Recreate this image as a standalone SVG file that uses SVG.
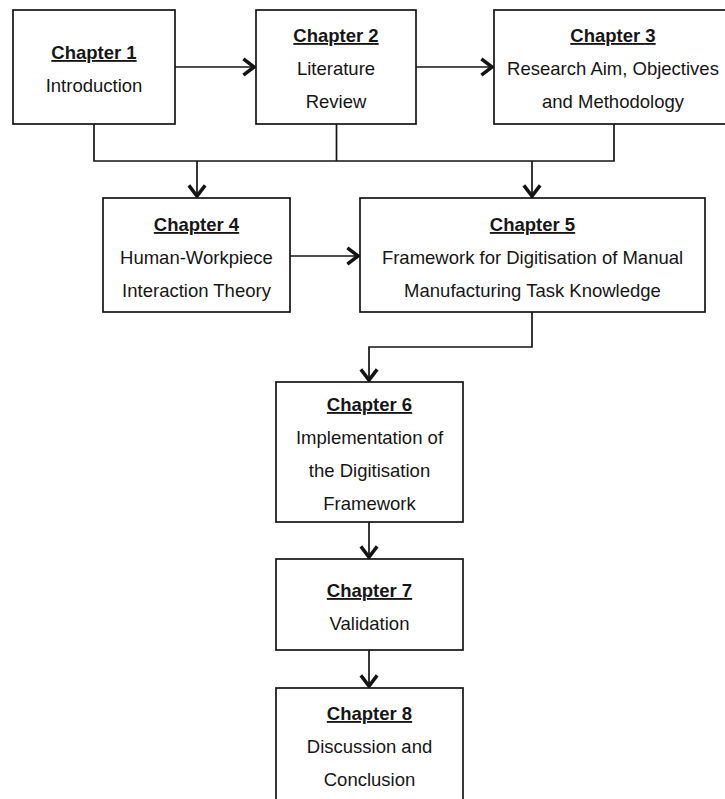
<svg xmlns="http://www.w3.org/2000/svg" width="725" height="799" viewBox="0 0 725 799">
  <style>
    .box { fill: #ffffff; stroke: #141414; stroke-width: 1.7; }
    .conn { fill: none; stroke: #141414; stroke-width: 1.7; }
    text { font-family: "Liberation Sans", Arial, sans-serif; font-size: 18.5px; fill: #161616; text-anchor: middle; }
    .title { font-weight: bold; text-decoration: underline; }
  </style>
  <defs>
    <marker id="arrow" markerUnits="userSpaceOnUse" markerWidth="24" markerHeight="24" viewBox="-14 -10 16 20" refX="0" refY="0" orient="auto">
      <path d="M-10.5,-6.8 L-1.6,0 L-10.5,6.8" fill="none" stroke="#141414" stroke-width="2.9" stroke-linejoin="miter"/>
    </marker>
  </defs>
  <rect width="725" height="799" fill="#ffffff"/>

  <g id="connectors">
    <path class="conn" d="M175,67 H256" marker-end="url(#arrow)"/>
    <path class="conn" d="M416,67 H494" marker-end="url(#arrow)"/>
    <path class="conn" d="M94,124 V161 H614 V124"/>
    <path class="conn" d="M336.5,124 V161"/>
    <path class="conn" d="M197,161 V198" marker-end="url(#arrow)"/>
    <path class="conn" d="M532,161 V198" marker-end="url(#arrow)"/>
    <path class="conn" d="M290,256 H360" marker-end="url(#arrow)"/>
    <path class="conn" d="M532,312 V347 H369 V382" marker-end="url(#arrow)"/>
    <path class="conn" d="M369,522 V559" marker-end="url(#arrow)"/>
    <path class="conn" d="M369,650 V688" marker-end="url(#arrow)"/>
  </g>

  <g id="chapter1">
    <rect class="box" x="13" y="10" width="162" height="114"/>
    <text class="title" x="94" y="59">Chapter 1</text>
    <text x="94" y="92">Introduction</text>
  </g>

  <g id="chapter2">
    <rect class="box" x="256" y="10" width="160" height="114"/>
    <text class="title" x="336" y="42">Chapter 2</text>
    <text x="336" y="75">Literature</text>
    <text x="336" y="108">Review</text>
  </g>

  <g id="chapter3">
    <rect class="box" x="494" y="10" width="240" height="114"/>
    <text class="title" x="613" y="42">Chapter 3</text>
    <text x="613" y="75">Research Aim, Objectives</text>
    <text x="613" y="108">and Methodology</text>
  </g>

  <g id="chapter4">
    <rect class="box" x="103" y="198" width="187" height="114"/>
    <text class="title" x="196.5" y="231">Chapter 4</text>
    <text x="196.5" y="264">Human-Workpiece</text>
    <text x="196.5" y="297">Interaction Theory</text>
  </g>

  <g id="chapter5">
    <rect class="box" x="360" y="198" width="345" height="114"/>
    <text class="title" x="532.5" y="231">Chapter 5</text>
    <text x="532.5" y="264">Framework for Digitisation of Manual</text>
    <text x="532.5" y="297">Manufacturing Task Knowledge</text>
  </g>

  <g id="chapter6">
    <rect class="box" x="276" y="382" width="187" height="140"/>
    <text class="title" x="369.5" y="411">Chapter 6</text>
    <text x="369.5" y="444">Implementation of</text>
    <text x="369.5" y="477">the Digitisation</text>
    <text x="369.5" y="510">Framework</text>
  </g>

  <g id="chapter7">
    <rect class="box" x="276" y="559" width="187" height="91"/>
    <text class="title" x="369.5" y="597">Chapter 7</text>
    <text x="369.5" y="630">Validation</text>
  </g>

  <g id="chapter8">
    <rect class="box" x="276" y="688" width="187" height="130"/>
    <text class="title" x="369.5" y="720">Chapter 8</text>
    <text x="369.5" y="753">Discussion and</text>
    <text x="369.5" y="786">Conclusion</text>
  </g>
</svg>
